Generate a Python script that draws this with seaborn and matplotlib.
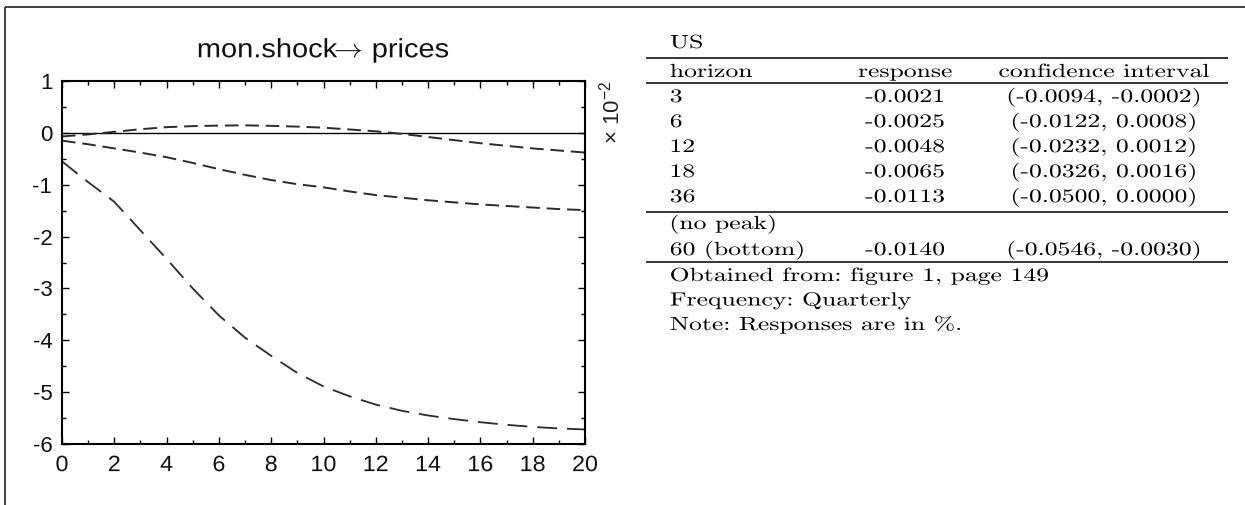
import matplotlib
matplotlib.use("Agg")
import matplotlib.pyplot as plt
import seaborn as sns
from matplotlib.patheffects import AbstractPathEffect
from matplotlib.transforms import Affine2D
from matplotlib.ticker import MultipleLocator

# Impulse response of prices to a monetary shock (x 10^-2)
horizon = list(range(21))
upper = [-0.07, -0.03, 0.02, 0.07, 0.11, 0.13, 0.14, 0.145, 0.135, 0.12, 0.10,
         0.065, 0.03, -0.02, -0.08, -0.14, -0.20, -0.25, -0.30, -0.34, -0.38]
middle = [-0.15, -0.22, -0.30, -0.38, -0.47, -0.58, -0.70, -0.81, -0.91, -0.99, -1.05,
          -1.13, -1.20, -1.25, -1.30, -1.34, -1.38, -1.41, -1.44, -1.47, -1.49]
lower = [-0.55, -0.95, -1.33, -1.88, -2.43, -3.00, -3.52, -3.95, -4.30, -4.63, -4.89,
         -5.08, -5.24, -5.36, -5.45, -5.52, -5.58, -5.63, -5.67, -5.70, -5.72]

# Table on the right
table_title = "US"
col_names = ["horizon", "response", "confidence interval"]
row_horizon = ["3", "6", "12", "18", "36"]
row_response = ["-0.0021", "-0.0025", "-0.0048", "-0.0065", "-0.0113"]
row_ci = ["(-0.0094, -0.0002)", "(-0.0122, 0.0008)", "(-0.0232, 0.0012)",
          "(-0.0326, 0.0016)", "(-0.0500, 0.0000)"]
peak_label = "(no peak)"
peak_row = ["60 (bottom)", "-0.0140", "(-0.0546, -0.0030)"]
notes = ["Obtained from: figure 1, page 149", "Frequency: Quarterly",
         "Note: Responses are in %."]


class Stretch(AbstractPathEffect):
    # the source picture is stretched sideways, so widen the glyphs to match
    def __init__(self, sx, anchor="center"):
        super().__init__()
        self.sx = sx
        self.anchor = anchor

    def draw_path(self, renderer, gc, tpath, affine, rgbFace=None):
        ext = tpath.get_extents(affine)
        x0 = {"left": ext.x0, "center": (ext.x0 + ext.x1) / 2, "right": ext.x1}[self.anchor]
        t = affine + Affine2D().translate(-x0, 0).scale(self.sx, 1).translate(x0, 0)
        renderer.draw_path(gc, tpath, t, rgbFace)


sns.set_theme(style="ticks")
plt.rcParams["font.family"] = ["Liberation Sans", "DejaVu Sans"]
plt.rcParams["axes.unicode_minus"] = False
plt.rcParams["mathtext.fontset"] = "custom"
plt.rcParams["mathtext.rm"] = "Liberation Sans"

W, H = 1245, 505
fig = plt.figure(figsize=(W / 100, H / 100), dpi=100)

# background layer in pixel coordinates for the frame and the table
tab = fig.add_axes([0, 0, 1, 1], zorder=-1)
tab.set_xlim(0, W)
tab.set_ylim(H, 0)
tab.axis("off")

ax = fig.add_axes([62 / W, 1 - 444 / H, 523 / W, 363 / H])

# Chart
line_col = "#2b2b2b"
ax.axhline(0, color="black", lw=1.0)
sns.lineplot(x=horizon, y=upper, ax=ax, color=line_col, lw=1.4, linestyle=(0, (7, 3.5)))
sns.lineplot(x=horizon, y=middle, ax=ax, color=line_col, lw=1.4, linestyle=(0, (7, 3.5)))
sns.lineplot(x=horizon, y=lower, ax=ax, color=line_col, lw=1.3, linestyle=(0, (11, 5.5)))

ax.set_xlim(0, 20)
ax.set_ylim(-6, 1)
ax.xaxis.set_major_locator(MultipleLocator(2))
ax.xaxis.set_minor_locator(MultipleLocator(1))
ax.yaxis.set_major_locator(MultipleLocator(1))
ax.yaxis.set_minor_locator(MultipleLocator(0.5))
ax.tick_params(which="both", direction="in", top=True, right=True, color="black", width=1)
ax.tick_params(which="major", length=5, labelsize=16, labelcolor="#111111")
ax.tick_params(which="minor", length=3)
ax.tick_params(axis="x", pad=8)
ax.tick_params(axis="y", pad=7)
for s in ax.spines.values():
    s.set_color("black")
    s.set_linewidth(1.5)
ax.set_xlabel("")
ax.set_ylabel("")

t = ax.set_title(r"mon.shock$\!\!{\rightarrow}\!$ prices", fontsize=19, pad=17,
                 color="#111111", math_fontfamily="cm")
t.set_path_effects([Stretch(1.1, "center")])
for tk in ax.xaxis.get_major_ticks():
    tk.label1.set_path_effects([Stretch(1.05, "center")])

tab.text(612, 112, "\u00d7 10$^{-2}$", rotation=90, ha="center", va="center",
         fontsize=16, color="#222222")

# Frame
tab.vlines(5, 7, H, color="#333333", lw=1.3)
tab.hlines(7, 5, W, color="#333333", lw=1.3)

# Table
serif = ["cmr10", "DejaVu Serif"]
fx = dict(family=serif, fontsize=13.7, color="black", va="baseline")
x_left, x_resp, x_ci = 670, 905, 1104
stretch_l = [Stretch(1.35, "left")]
stretch_c = [Stretch(1.35, "center")]


def put(x, y, s, ha):
    txt = tab.text(x, y, s, ha=ha, **fx)
    txt.set_path_effects(stretch_l if ha == "left" else stretch_c)


put(x_left, 48, table_title, "left")
put(x_left, 77, col_names[0], "left")
put(x_resp, 77, col_names[1], "center")
put(x_ci, 77, col_names[2], "center")
for i in range(len(row_horizon)):
    y = 102 + 25 * i
    put(x_left, y, row_horizon[i], "left")
    put(x_resp, y, row_response[i], "center")
    put(x_ci, y, row_ci[i], "center")
put(x_left, 229, peak_label, "left")
put(x_left, 255, peak_row[0], "left")
put(x_resp, 255, peak_row[1], "center")
put(x_ci, 255, peak_row[2], "center")
for i, n in enumerate(notes):
    put(x_left, 281 + 24.5 * i, n, "left")

tab.hlines([57.5, 83, 212, 262], 646, 1228, color="black", lw=1.1)

fig.savefig("out.png", dpi=100)
